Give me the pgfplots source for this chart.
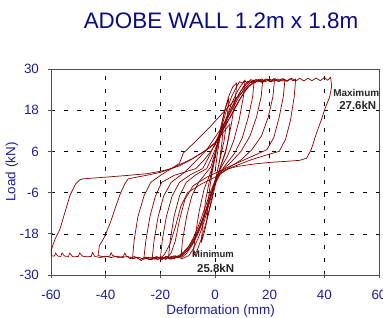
\documentclass[border=0pt]{standalone}
\usepackage{fontspec}
\setmainfont{Liberation Sans}
\usepackage{pgfplots}
\pgfplotsset{compat=1.18}
\definecolor{curve}{RGB}{135,0,0}
\definecolor{titleblue}{RGB}{10,10,130}
\definecolor{tickblue}{RGB}{30,30,150}
\definecolor{axgray}{RGB}{80,80,80}
\pgfplotsset{hyst/.style={curve, solid, line width=0.7pt, line join=round, no marks}}
\begin{document}
\begin{tikzpicture}
\begin{axis}[at={(0,0)}, anchor=south west,
 scale only axis, width=328bp, height=206bp,
 xmin=-60,xmax=60,ymin=-30,ymax=30,
 xtick={-60,-40,...,60}, ytick={-30,-18,-6,6,18,30},
 tick pos=left, tick align=center, major tick length=5bp,
 axis line style={axgray, line width=0.8pt},
 every tick/.style={axgray, line width=0.8pt},
 grid=major, grid style={black, dash pattern=on 4bp off 9bp, line width=0.5pt},
 ticklabel style={font=\fontsize{13.5}{15}\selectfont, text=tickblue},
 xticklabel style={yshift=-9bp},
 yticklabel style={xshift=-6bp},
 /pgf/number format/assume math mode=true,
 xlabel={Deformation (mm)}, ylabel={Load (kN)},
 every axis x label/.style={at={(axis description cs:0.517,0)}, anchor=base, yshift=-39bp, font=\fontsize{13.5}{15}\selectfont, text=tickblue},
 every axis y label/.style={at={(axis description cs:0,0.5)}, xshift=-35.5bp, rotate=90, anchor=base, font=\fontsize{13.5}{15}\selectfont, text=tickblue},
 clip mode=individual,
]
% cycles 1-2
\addplot[hyst] coordinates {(0,0) (0.8,5) (1.8,10) (3,14) (2.6,9) (1.8,4) (0.8,0) (-0.5,-5) (-1.8,-10) (-3,-13.5) (-2.6,-9) (-1.8,-4) (-1,0)
 (0,4) (1.2,9) (2.5,14) (3.8,18.5) (5,21.5) (4.5,16) (3.3,9) (1.8,3.5) (0.5,-1) (-1,-7) (-2.4,-12) (-3.7,-17) (-5,-20.5) (-4.5,-15) (-3.4,-8) (-2,-2.5) (-1,1)};
% cycle 3
\addplot[hyst] coordinates {(-1,1) (0.3,6) (1.8,12) (3.4,17.5) (5,22) (6.5,24.8) (8,26) (7.4,21) (6,14) (4.2,7) (2.2,2) (0.5,-2.5) (-1.2,-8.5) (-3,-14) (-4.8,-19) (-6.5,-22.8) (-8,-24.6) (-7.3,-19) (-5.8,-11.5) (-4,-5) (-2,-1) (-0.8,2)};
% cycle 4
\addplot[hyst] coordinates {(-0.8,2) (0.6,7) (2.2,12.5) (4,17.5) (6,21.8) (8,25) (9,26.3) (10,25.9) (11,26.8) (10.4,22) (8.8,15) (6.8,9) (4.5,4.5) (2,1) (0,-3) (-2,-9) (-4,-14.5) (-6,-19) (-8,-22.5) (-9.5,-24.3) (-11,-24.9) (-12.5,-25.3) (-11.9,-20) (-10.4,-13) (-8.5,-7) (-6,-3) (-3.5,-0.5) (-1.5,1.5)};
% cycle 5
\addplot[hyst] coordinates {(-1.5,1.5) (0,5.5) (2,10.5) (4,15.5) (6,19.8) (8,23.2) (9.5,25.2) (11,26.5) (12,25.9) (13,26.9) (14.3,26.6) (13.8,22) (12.2,16) (10,10) (7.2,5.5) (4,2.2) (1.5,-0.5) (-0.5,-4) (-2.5,-9.5) (-4.5,-14.5) (-6.5,-18.5) (-8.5,-21.5) (-10.5,-23.8) (-12,-24.8) (-13.5,-24.4) (-15,-25.3) (-17,-24.8) (-16.4,-20) (-15,-13) (-13,-7) (-10.5,-3) (-7,-0.8) (-3,1)};
% cycle 6
\addplot[hyst] coordinates {(-3,1) (-1,4.5) (1,8.5) (3,12.5) (5,16.5) (7,20) (9,23) (10.5,25) (12,26.4) (13.5,26) (15,27) (16.3,26.3) (17.5,27) (16.9,22) (15.2,16) (12.8,10.5) (9.5,6) (6,3) (3,0.8) (0.5,-2) (-1.5,-6.5) (-3.5,-11.5) (-5.5,-16) (-7.5,-19.5) (-9.5,-22.2) (-11.5,-24) (-13,-24.9) (-14.5,-24.4) (-16,-25.4) (-18,-24.7) (-20,-25.4) (-19.3,-20) (-17.8,-13) (-15.7,-7) (-13,-3) (-9,-0.8) (-4.5,1)};
% cycle 7
\addplot[hyst] coordinates {(-4.5,1) (-2.5,4) (-0.5,7.5) (1.5,11) (3.5,14.5) (5.5,18) (7.5,21) (9.5,23.6) (11.5,25.6) (13,26.6) (14.5,26) (16,27) (17.5,26.2) (19,27) (20.5,26.4) (21.8,27) (21.2,22) (19.5,16) (17,10.5) (13.5,6.5) (9.5,3.5) (5.5,1.5) (2,-0.5) (0,-3.5) (-2,-8) (-4,-12.5) (-6,-16.5) (-8,-19.8) (-10,-22.2) (-12,-23.9) (-13.5,-24.9) (-15,-24.4) (-16.5,-25.4) (-18,-24.6) (-19.5,-25.5) (-21,-24.7) (-23,-25.4) (-22.3,-20) (-20.8,-13) (-18.8,-7) (-16,-3) (-11,0) (-6,4) (-3,6.5)};
% cycle 8
\addplot[hyst] coordinates {(-3,6.5) (-0.5,9.5) (2.5,13) (4.5,15.5) (6.5,18.5) (8.5,21.5) (10.5,24) (12.5,25.8) (14,26.8) (15.5,26.2) (17,27.1) (18.5,26.3) (20,27.1) (21.5,26.4) (23,27.1) (24.5,26.5) (25.6,27) (25,22) (23.5,16) (21.5,10) (19,6.5) (12,4) (5,1.5) (-3,-1.5) (-8,-4) (-11,-8) (-13,-14) (-14.5,-20) (-16,-23.5) (-18,-25.5) (-19.5,-24.7) (-21,-25.6) (-22.5,-24.8) (-24,-25.5) (-26,-24.9) (-25.3,-20) (-23.8,-13) (-21.8,-7) (-19.5,-3) (-15,-1) (-7,1)};
% cycle 9
\addplot[hyst] coordinates {(-7,1) (-4,3.5) (-1.5,6) (0.5,8.5) (2.5,11.5) (4.5,14.5) (6.5,17.5) (8.5,20.5) (10.5,23) (12.5,25) (14,26.2) (15.5,26.8) (17,26.1) (18.5,27.1) (20,26.3) (21.5,27.2) (23,26.4) (24.5,27.2) (26,26.4) (27.5,27.2) (28.5,26.5) (29.5,27.1) (29,22) (27.6,15) (25.8,9.5) (23.5,6) (19,5) (13,3.5) (5,1) (0,-1.5) (-5,-3.5) (-10,-6) (-12.5,-10) (-14.5,-16) (-16.5,-21) (-18.5,-24) (-20,-25.3) (-21.5,-24.7) (-23.5,-25.5) (-25.5,-24.8) (-27,-25.8) (-28.5,-24.9) (-30.2,-25.3) (-29.6,-20) (-28.2,-13) (-26,-7) (-23.5,-3) (-20,-1) (-16,1) (-13,2.5)};
% cycle 10 (+42 / -42)
\addplot[hyst] coordinates {(-13,2.5) (-11.6,5.5) (-7,9) (-2,13) (2,16.5) (5.5,19.5) (9,22.5) (12,24.8) (14.5,26) (16,26.8) (17.5,26.1) (19,27.1) (20.5,26.2) (22,27.2) (23.5,26.3) (25,27.2) (26.5,26.4) (28,27.3) (29.5,26.5) (31,27.3) (32.5,26.5) (34,27.3) (35.5,26.6) (37,27.4) (38.5,26.6) (40,27.5) (41.2,26.7) (42.3,27.6) (42.7,25) (42,22) (40.5,19) (38.8,15) (37,11) (35.2,6.5) (33.5,4) (31,3.4) (26,3.1) (20,2.8) (14,2.3) (8,1.6) (3,0.5) (0.5,-1.5) (-1.5,-5.5) (-3.5,-10) (-5.5,-14.5) (-7.5,-18.5) (-9.5,-21.5) (-11.5,-23.3) (-13.5,-24.5) (-15.5,-25.2) (-17.5,-24.6) (-19.5,-25.5) (-21.5,-24.7) (-23.5,-25.6) (-25.5,-24.8) (-27.5,-25.5) (-29.5,-24.6) (-31,-25.3) (-32.5,-24.4) (-33,-23.6) (-33.5,-24.6) (-35.5,-24.9) (-37.5,-24.3) (-38,-23.5) (-38.5,-24.5) (-40.5,-24.8) (-42.8,-24.3)
 (-42.3,-21.5) (-40.5,-19) (-38.4,-15) (-36.5,-10.5) (-34.5,-6) (-33,-3.5) (-31.8,-2) (-28,-1.4) (-24,-0.8) (-20,-0.1) (-16,1) (-12,2.5) (-8,4) (-4,6) (0,8.5) (2.5,11) (4.5,13) (5.5,14)};
% cycle 11 (-60)
\addplot[hyst] coordinates {(5.5,14) (5,10) (3.8,5.5) (2,1.5) (0,-2.5) (-2,-8) (-4,-13) (-6,-17) (-8,-20.5) (-10,-22.8) (-12,-24.2) (-14,-25) (-16,-24.6) (-18,-25.3) (-20,-24.7) (-22,-25.4) (-24,-24.8) (-26,-25.4) (-28,-24.8) (-30,-25.1) (-32,-24.6) (-34,-24.9) (-36,-24.5) (-38,-24.9) (-40,-24.5) (-42,-24.9) (-44,-24.6) (-44.8,-23.4) (-45.3,-24.6) (-47,-24.7) (-48.5,-24.5) (-49.5,-23.6) (-50,-24.6) (-52,-24.7) (-53.2,-23.6) (-53.6,-24.6) (-55,-24.5) (-56,-23.6) (-56.4,-24.6) (-57.5,-24.5) (-58.3,-23.6) (-58.7,-24.5) (-59.9,-24.4)
 (-59.9,-22.7) (-58.5,-19.5) (-56.7,-16.6) (-55,-12) (-53,-6.7) (-51,-3.5) (-49.5,-2.3) (-48.3,-2) (-40,-1.5) (-32,-1) (-25,-0.5) (-20,0.2) (-16,1) (-13,1.8) (-9,3.5) (-5,5.5) (-2,7) (0,8.4) (3,12.5) (6,16.5) (9,21) (12,24.8) (13,25.6)};
\node[anchor=base west, inner sep=0, text=black!85, font=\fontsize{10}{11}\selectfont\bfseries] at (axis cs:43.2,22.1) {Maximum};
\node[anchor=base west, inner sep=0, text=black!85, font=\fontsize{11.5}{13}\selectfont\bfseries] at (axis cs:45.4,18.06) {27.6kN};
\node[anchor=base west, inner sep=0, text=black!85, font=\fontsize{9.5}{10}\selectfont\bfseries] at (axis cs:-8.4,-24.8) {Minimum};
\node[anchor=base west, inner sep=0, text=black!85, font=\fontsize{11.5}{13}\selectfont\bfseries] at (axis cs:-6.6,-29.4) {25.8kN};
\end{axis}
\node[anchor=base, inner sep=0, text=titleblue, font=\fontsize{22.5}{26}\selectfont] at (170bp,246bp) {ADOBE WALL 1.2m x 1.8m};
\pgfresetboundingbox
\path[use as bounding box] (-51bp,-43bp) rectangle (332bp,275bp);
\end{tikzpicture}
\end{document}
